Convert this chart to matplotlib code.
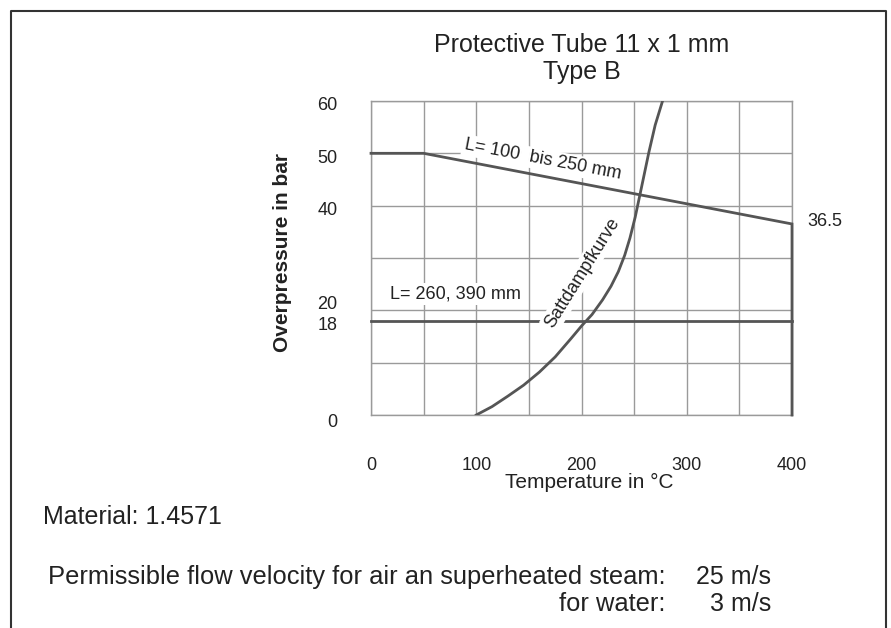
import matplotlib.pyplot as plt
from matplotlib.ticker import MultipleLocator
from matplotlib.transforms import ScaledTranslation
from matplotlib.lines import Line2D

plt.rcParams['font.family'] = ['Liberation Sans', 'DejaVu Sans']

# limit line for L = 100 bis 250 mm
upper_t = [0, 50, 400, 400]
upper_p = [50, 50, 36.5, 0]

# limit line for L = 260, 390 mm
lower_t = [0, 400]
lower_p = [18, 18]

# saturated steam curve
steam_t = [100, 115, 130, 145, 160, 175, 190, 200, 210, 220, 228, 235, 241, 246, 251, 257, 264, 270, 277]
steam_p = [0, 1.6, 3.6, 5.7, 8.2, 11.1, 14.6, 17.0, 19.2, 22.0, 24.6, 27.4, 30.5, 33.8, 37.8, 43.5, 50.2, 55.4, 60]

x_ticks = [0, 100, 200, 300, 400]
y_ticks = [0, 18, 20, 40, 50, 60]

txt = '#222222'
line_col = '#555555'
grid_col = '#9a9a9a'

fig = plt.figure(figsize=(8.91, 6.28), dpi=100)
ax = fig.add_axes([0.4164, 0.3392, 0.4725, 0.5])

ax.set_xlim(0, 400)
ax.set_ylim(0, 60)
ax.set_xticks(x_ticks)
ax.set_yticks(y_ticks)
ax.xaxis.set_minor_locator(MultipleLocator(50))
ax.yaxis.set_minor_locator(MultipleLocator(10))
ax.xaxis.remove_overlapping_locs = False
ax.yaxis.remove_overlapping_locs = False
ax.grid(which='minor', color=grid_col, lw=1.0, zorder=0)
ax.tick_params(which='both', length=0, labelsize=13, colors=txt)
ax.tick_params(axis='x', pad=30)
ax.tick_params(axis='y', pad=24)
for s in ax.spines.values():
    s.set_color(grid_col)
    s.set_linewidth(1.0)

# nudge crowded y labels apart like the original
shift = {'20': 8, '0': -6}
for lab, val in zip(ax.get_yticklabels(), y_ticks):
    dy = shift.get(str(val), -3)
    lab.set_transform(lab.get_transform() + ScaledTranslation(0, dy / 100, fig.dpi_scale_trans))

ax.plot(upper_t, upper_p, color=line_col, lw=2.0, zorder=3, clip_on=False, solid_joinstyle='miter')
ax.plot(lower_t, lower_p, color=line_col, lw=2.0, zorder=3, clip_on=False)
ax.plot(steam_t, steam_p, color=line_col, lw=2.0, zorder=3)

box = dict(facecolor='white', edgecolor='none', pad=1.5)
ax.text(163, 48.8, 'L= 100  bis 250 mm', rotation=-10.8, ha='center', va='center',
        fontsize=13, color=txt, bbox=box, zorder=4, rotation_mode='anchor')
ax.text(80, 23.1, 'L= 260, 390 mm', ha='center', va='center', fontsize=13, color=txt,
        bbox=box, zorder=4)
ax.text(201, 27.2, 'Sattdampfkurve', rotation=58, ha='center', va='center',
        fontsize=13, color=txt, bbox=box, zorder=4, rotation_mode='anchor')
ax.text(415, 37, '36.5', ha='left', va='center', fontsize=13, color=txt)

ax.set_xlabel('Temperature in °C', fontsize=15, color=txt)
ax.xaxis.set_label_coords(0.518, -0.186)
ax.set_ylabel('Overpressure in bar', fontsize=15, color=txt, fontweight='bold')
ax.yaxis.set_label_coords(-0.188, 0.519)

fig.text(0.653, 0.928, 'Protective Tube 11 x 1 mm', ha='center', va='center', fontsize=18, color=txt)
fig.text(0.653, 0.885, 'Type B', ha='center', va='center', fontsize=18, color=txt)

fig.text(0.048, 0.177, 'Material: 1.4571', ha='left', va='center', fontsize=18, color=txt)
fig.text(0.7464, 0.081, 'Permissible flow velocity for air an superheated steam:', ha='right',
         va='center', fontsize=18.4, color=txt)
fig.text(0.8653, 0.081, '25 m/s', ha='right', va='center', fontsize=18, color=txt)
fig.text(0.7464, 0.039, 'for water:', ha='right', va='center', fontsize=18.4, color=txt)
fig.text(0.8653, 0.039, '3 m/s', ha='right', va='center', fontsize=18, color=txt)

# outer frame (left, top, right; open at the bottom)
frame_x = [11 / 891, 11 / 891, 886 / 891, 886 / 891]
frame_y = [-0.01, 1 - 11 / 628, 1 - 11 / 628, -0.01]
fig.add_artist(Line2D(frame_x, frame_y, color='#333333', lw=1.5, transform=fig.transFigure))

fig.savefig('out.png', dpi=100, facecolor='white')
